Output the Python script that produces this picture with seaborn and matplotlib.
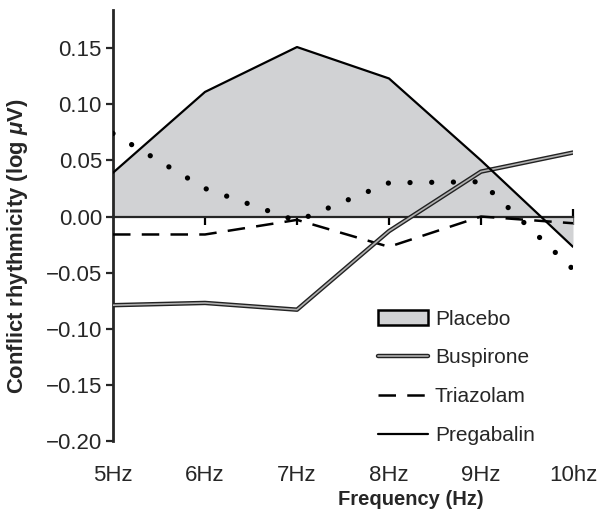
import numpy as np
import pandas as pd
import seaborn as sns
import matplotlib.pyplot as plt
import matplotlib.patheffects as pe
from matplotlib.patches import Patch
from matplotlib.lines import Line2D

# --- Data ---
freq = [5, 6, 7, 8, 9, 10]
freq_labels = ["5Hz", "6Hz", "7Hz", "8Hz", "9Hz", "10hz"]
placebo = [0.039, 0.111, 0.151, 0.123, 0.050, -0.027]
buspirone = [-0.079, -0.077, -0.083, -0.013, 0.040, 0.057]
triazolam = [-0.016, -0.016, -0.003, -0.027, 0.000, -0.006]
pregabalin = [0.039, 0.111, 0.151, 0.123, 0.050, -0.027]
dotted = [0.074, 0.025, -0.004, 0.030, 0.031, -0.047]

df = pd.DataFrame({"freq": freq, "placebo": placebo, "buspirone": buspirone,
                   "triazolam": triazolam, "pregabalin": pregabalin, "dotted": dotted})

sns.set_style("ticks")
plt.rcParams["font.family"] = ["Liberation Sans", "DejaVu Sans"]
plt.rcParams["mathtext.fontset"] = "custom"
plt.rcParams["mathtext.it"] = "Liberation Sans:italic:bold"
plt.rcParams["mathtext.rm"] = "Liberation Sans:bold"

fig = plt.figure(figsize=(6.02, 5.19), dpi=100)
ax = fig.add_axes([113 / 602, 1 - 441 / 519, 460 / 602, 431 / 519])

# Placebo area
ax.fill_between(df["freq"], df["placebo"], 0, color="#d1d2d4", lw=0, zorder=1)

# zero line as bottom spine
ax.spines["bottom"].set_position(("data", 0))
ax.spines["bottom"].set_linewidth(1.6)
ax.spines["bottom"].set_zorder(2)
ax.spines["left"].set_linewidth(2)
ax.spines["left"].set_bounds(-0.2, 0.184)
for s in ["top", "right"]:
    ax.spines[s].set_visible(False)

sns.lineplot(data=df, x="freq", y="dotted", ax=ax, color="black", lw=3.8,
             linestyle=(0, (0.01, 4.1)), dash_capstyle="round", zorder=3)
sns.lineplot(data=df, x="freq", y="triazolam", ax=ax, color="black", lw=1.8,
             dashes=False, linestyle=(0, (7, 4.5)), zorder=3)
sns.lineplot(data=df, x="freq", y="buspirone", ax=ax, color="#b0b0b0", lw=1.2,
             path_effects=[pe.Stroke(linewidth=3.2, foreground="#222222"), pe.Normal()],
             zorder=4)
sns.lineplot(data=df, x="freq", y="pregabalin", ax=ax, color="black", lw=1.6, zorder=5)

ax.set_xlim(5, 10)
ax.set_ylim(-0.2, 0.184)
ax.set_xticks(freq[1:])
ax.set_xticklabels([])
ax.tick_params(axis="x", direction="inout", length=12, width=1.6, color="black")
ax.set_yticks([0.15, 0.10, 0.05, 0.00, -0.05, -0.10, -0.15, -0.20])
ax.set_yticklabels(["0.15", "0.10", "0.05", "0.00", "\u22120.05", "\u22120.10",
                    "\u22120.15", "\u22120.20"])
ax.tick_params(axis="y", direction="out", length=5, width=1.6, labelsize=16, pad=3)
ax.set_xlabel("")
ax.set_ylabel(r"Conflict rhythmicity (log $\mu$V)", fontsize=15.8, fontweight="bold")
ax.yaxis.set_label_coords(-0.18, 0.452)

# tick labels along the bottom
sec = ax.secondary_xaxis("bottom")
sec.set_xticks(freq)
sec.set_xticklabels(freq_labels)
sec.tick_params(length=0, labelsize=16, pad=17)
sec.spines["bottom"].set_visible(False)
sec.set_xlabel("Frequency (Hz)", fontsize=14.5, fontweight="bold")
sec.xaxis.set_label_coords(0.648, -0.114, transform=ax.transAxes)

handles = [
    Patch(facecolor="#d1d2d4", edgecolor="black", linewidth=1.8),
    Line2D([], [], color="#b0b0b0", lw=1.2,
           path_effects=[pe.Stroke(linewidth=3.2, foreground="#222222"), pe.Normal()]),
    Line2D([], [], color="black", lw=1.8, linestyle=(0, (7, 4.5))),
    Line2D([], [], color="black", lw=1.6),
]
labels = ["Placebo", "Buspirone", "Triazolam", "Pregabalin"]
ax.legend(handles, labels, loc="upper left", bbox_to_anchor=(0.575, 0.305),
          frameon=False, fontsize=15, handlelength=2.4, handletextpad=0.35,
          labelspacing=0.95, borderpad=0, borderaxespad=0)

fig.savefig("out.png", dpi=100)
